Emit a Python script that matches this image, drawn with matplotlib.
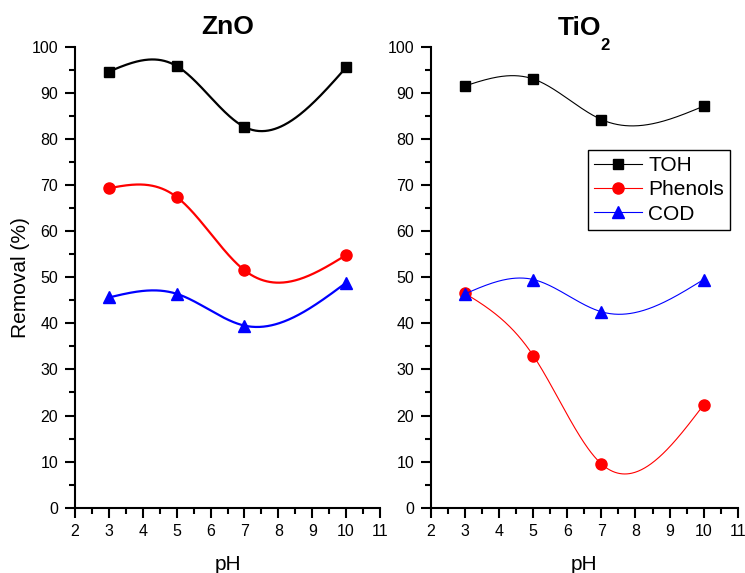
import numpy as np
import matplotlib
matplotlib.use("Agg")
import matplotlib.pyplot as plt
from matplotlib.ticker import MultipleLocator

plt.rcParams['font.family'] = ['Liberation Sans', 'DejaVu Sans']

ph = [3, 5, 7, 10]
zno_toh = [94.6, 95.8, 82.6, 95.5]
zno_phenols = [69.3, 67.4, 51.5, 54.8]
zno_cod = [45.6, 46.4, 39.5, 48.8]
tio2_toh = [91.5, 93.0, 84.2, 87.1]
tio2_phenols = [46.5, 33.0, 9.5, 22.3]
tio2_cod = [46.4, 49.5, 42.5, 49.5]
series_names = ['TOH', 'Phenols', 'COD']
xticks = [2, 3, 4, 5, 6, 7, 8, 9, 10, 11]
yticks = [0, 10, 20, 30, 40, 50, 60, 70, 80, 90, 100]


def natural_spline(x, y, n=300):
    x = np.asarray(x, float)
    y = np.asarray(y, float)
    m = len(x)
    h = np.diff(x)
    A = np.zeros((m, m))
    b = np.zeros(m)
    A[0, 0] = 1
    A[-1, -1] = 1
    for i in range(1, m - 1):
        A[i, i - 1] = h[i - 1]
        A[i, i] = 2 * (h[i - 1] + h[i])
        A[i, i + 1] = h[i]
        b[i] = 6 * ((y[i + 1] - y[i]) / h[i] - (y[i] - y[i - 1]) / h[i - 1])
    M = np.linalg.solve(A, b)
    xs = np.linspace(x[0], x[-1], n)
    ys = np.empty_like(xs)
    for k, xv in enumerate(xs):
        i = min(np.searchsorted(x, xv, side='right') - 1, m - 2)
        i = max(i, 0)
        t1 = x[i + 1] - xv
        t0 = xv - x[i]
        ys[k] = (M[i] * t1 ** 3 / (6 * h[i]) + M[i + 1] * t0 ** 3 / (6 * h[i])
                 + (y[i] / h[i] - M[i] * h[i] / 6) * t1
                 + (y[i + 1] / h[i] - M[i + 1] * h[i] / 6) * t0)
    return xs, ys


fig = plt.figure(figsize=(7.45, 5.73), dpi=100)
W, H = 745, 573
ax1 = fig.add_axes([75 / W, (H - 507.7) / H, 305 / W, 461 / H])
ax2 = fig.add_axes([431 / W, (H - 507.7) / H, 306.7 / W, 461 / H])

colors = ['black', 'red', 'blue']
markers = ['s', 'o', '^']
msizes = [7, 8, 8.5]


def draw(ax, data, lw):
    for vals, c, mk, ms, name in zip(data, colors, markers, msizes, series_names):
        xs, ys = natural_spline(ph, vals)
        ax.plot(xs, ys, color=c, lw=lw)
        ax.plot(ph, vals, linestyle='none', marker=mk, color=c, ms=ms)
        ax.plot([], [], color=c, lw=0.8, marker=mk, ms=ms, label=name)
    ax.set_xlim(2, 11)
    ax.set_ylim(0, 100)
    ax.set_xticks(xticks)
    ax.set_yticks(yticks)
    ax.xaxis.set_minor_locator(MultipleLocator(0.5))
    ax.yaxis.set_minor_locator(MultipleLocator(5))
    for s in ['top', 'right']:
        ax.spines[s].set_visible(False)
    for s in ['left', 'bottom']:
        ax.spines[s].set_linewidth(1.5)
    ax.tick_params(which='major', length=7, width=1.5, labelsize=11.5, pad=5)
    ax.tick_params(which='minor', length=4, width=1.5)
    ax.set_xlabel('pH', fontsize=15, labelpad=11)
    ax.set_facecolor('white')


draw(ax1, [zno_toh, zno_phenols, zno_cod], 1.6)
draw(ax2, [tio2_toh, tio2_phenols, tio2_cod], 0.8)
ax1.set_title('ZnO', fontsize=19, fontweight='bold', pad=9)
fig.text(580 / W, (H - 35) / H, 'TiO', fontsize=19, fontweight='bold',
         ha='center', va='baseline')
fig.text(600.5 / W, (H - 50) / H, '2', fontsize=12, fontweight='bold',
         ha='left', va='baseline')
ax1.set_ylabel('Removal (%)', fontsize=15, labelpad=1)

leg = ax2.legend(loc='upper right', bbox_to_anchor=(0.975, 0.776), fontsize=15,
                 fancybox=False, edgecolor='black', framealpha=1,
                 handlelength=2.3, labelspacing=0.25, borderpad=0.3,
                 handletextpad=0.3, borderaxespad=0)
leg.get_frame().set_linewidth(1.0)

fig.savefig('out.png', dpi=100)
